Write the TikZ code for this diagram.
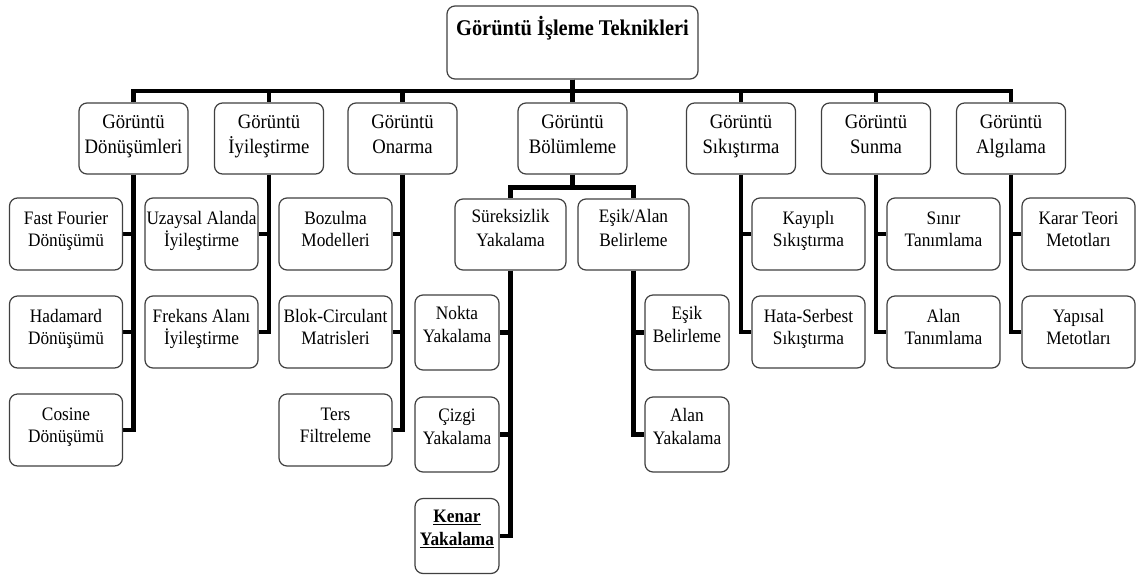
\documentclass[tikz,border=0pt]{standalone}
\usepackage{fontspec}
\setmainfont{Liberation Serif}
\usepackage{graphicx}
\pgfdeclarelayer{bg}
\pgfsetlayers{bg,main}
\newcommand\lbl[3]{\scalebox{1}[1.1]{\fontsize{#1}{#2}\selectfont\begin{tabular}{@{}c@{}}#3\end{tabular}}}
% name, x, y, w, h, text shift, text
\newcommand\bx[7]{%
  \node[boxst, minimum width=#4pt, minimum height=#5pt] (#1) at (#2,#3) {};
  \node[inner sep=0pt] (#1t) at ([yshift=#6pt]#1.center) {#7};}
\newcommand\lA[1]{\lbl{18.7}{22.7}{#1}}
\newcommand\lB[1]{\lbl{17.3}{20.6}{#1}}
\newcommand\lC[1]{\lbl{17.3}{21.2}{#1}}
\tikzset{
  boxst/.style={draw=black!75, line width=1.2pt, rounded corners=8pt, fill=white, inner sep=0pt},
  conn/.style={draw=black, line width=4.5pt}
}
\begin{document}
\begin{tikzpicture}[x=1pt,y=-1pt]
\begin{pgfonlayer}{bg}
\fill[white] (0,0) rectangle (1137,579);
\end{pgfonlayer}
\useasboundingbox (0,0) rectangle (1137,579);
% top
\bx{top}{572.5}{42.5}{251}{73}{14}{\scalebox{1}[1.1]{\fontsize{20.4}{24}\selectfont\bfseries Görüntü İşleme Teknikleri}}
% level 1
\bx{c1}{133.5}{138.5}{109}{71}{2.7}{\lA{Görüntü\\Dönüşümleri}}
\bx{c2}{269}{138.5}{109}{71}{2.7}{\lA{Görüntü\\İyileştirme}}
\bx{c3}{402.5}{138.5}{109}{71}{2.7}{\lA{Görüntü\\Onarma}}
\bx{c4}{572.5}{138.5}{109}{71}{2.7}{\lA{Görüntü\\Bölümleme}}
\bx{c5}{741}{138.5}{109}{71}{2.7}{\lA{Görüntü\\Sıkıştırma}}
\bx{c6}{876}{138.5}{109}{71}{2.7}{\lA{Görüntü\\Sunma}}
\bx{c7}{1011}{138.5}{109}{71}{2.7}{\lA{Görüntü\\Algılama}}
% column 1
\bx{a1}{66}{234}{113}{72}{3.2}{\lB{Fast Fourier\\Dönüşümü}}
\bx{a2}{66}{332}{113}{72}{3.2}{\lB{Hadamard\\Dönüşümü}}
\bx{a3}{66}{430}{113}{72}{3.2}{\lB{Cosine\\Dönüşümü}}
% column 2
\bx{b1}{201.5}{234}{113}{72}{3.2}{\lB{Uzaysal Alanda\\İyileştirme}}
\bx{b2}{201.5}{332}{113}{72}{3.2}{\lB{Frekans Alanı\\İyileştirme}}
% column 3
\bx{d1}{335.5}{234}{113}{72}{3.2}{\lB{Bozulma\\Modelleri}}
\bx{d2}{335.5}{332}{113}{72}{3.2}{\lB{Blok-Circulant\\Matrisleri}}
\bx{d3}{335.5}{430}{113}{72}{3.2}{\lB{Ters\\Filtreleme}}
% column 4
\bx{s1}{510.5}{234.5}{111}{71}{4.8}{\lC{Süreksizlik\\Yakalama}}
\bx{s2}{633.5}{234.5}{111}{71}{4.8}{\lC{Eşik/Alan\\Belirleme}}
\bx{n1}{457}{332.5}{84}{75}{6.5}{\lC{Nokta\\Yakalama}}
\bx{n2}{457}{434.5}{84}{75}{6.5}{\lC{Çizgi\\Yakalama}}
\bx{n3}{457}{536}{84}{75}{6.5}{\lC{\textbf{\underline{Kenar}}\\\textbf{\underline{Yakalama}}}}
\bx{e1}{687}{332.5}{84}{75}{6.5}{\lC{Eşik\\Belirleme}}
\bx{e2}{687}{434.5}{84}{75}{6.5}{\lC{Alan\\Yakalama}}
% column 5
\bx{f1}{808.5}{234}{113}{72}{3.2}{\lB{Kayıplı\\Sıkıştırma}}
\bx{f2}{808.5}{332}{113}{72}{3.2}{\lB{Hata-Serbest\\Sıkıştırma}}
% column 6
\bx{g1}{943.5}{234}{113}{72}{3.2}{\lB{Sınır\\Tanımlama}}
\bx{g2}{943.5}{332}{113}{72}{3.2}{\lB{Alan\\Tanımlama}}
% column 7
\bx{h1}{1078.5}{234}{113}{72}{3.2}{\lB{Karar Teori\\Metotları}}
\bx{h2}{1078.5}{332}{113}{72}{3.2}{\lB{Yapısal\\Metotları}}
\begin{pgfonlayer}{bg}
\foreach \c in {c1,c2,c3,c4,c5,c6,c7}
  \draw[conn] (top.south) -- ++(0,11.5) -| (\c.north);
\foreach \c in {s1,s2}
  \draw[conn] (c4.south) -- ++(0,13) -| (\c.north);
\foreach \k in {a1,a2,a3} \draw[conn] (c1.south) |- (\k.east);
\foreach \k in {b1,b2} \draw[conn] (c2.south) |- (\k.east);
\foreach \k in {d1,d2,d3} \draw[conn] (c3.south) |- (\k.east);
\foreach \k in {n1,n2,n3} \draw[conn] (s1.south) |- (\k.east);
\foreach \k in {e1,e2} \draw[conn] (s2.south) |- (\k.west);
\foreach \k in {f1,f2} \draw[conn] (c5.south) |- (\k.west);
\foreach \k in {g1,g2} \draw[conn] (c6.south) |- (\k.west);
\foreach \k in {h1,h2} \draw[conn] (c7.south) |- (\k.west);
\end{pgfonlayer}
\end{tikzpicture}
\end{document}
